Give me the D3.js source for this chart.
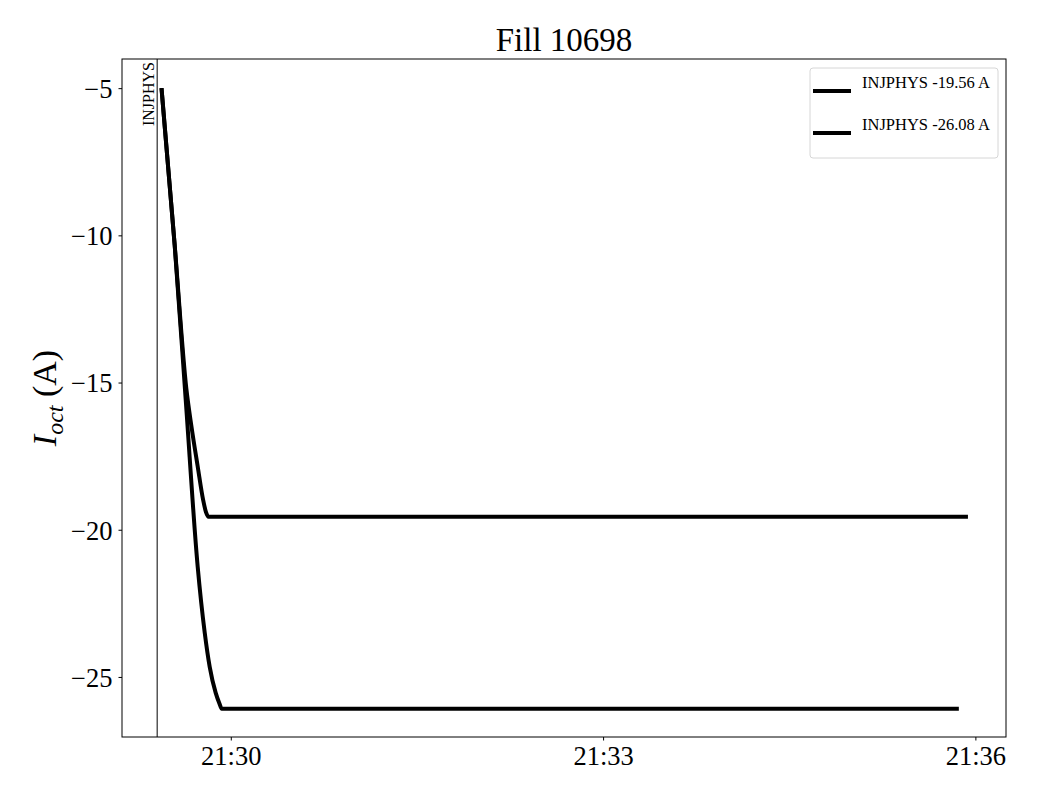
<!DOCTYPE html>
<html>
<head>
<meta charset="utf-8">
<script src="https://cdn.jsdelivr.net/npm/d3@7"></script>
<style>
  body { margin: 0; background: #fff; }
  text { font-family: "Liberation Serif", "DejaVu Serif", serif; }
</style>
</head>
<body>
<div id="chart"></div>
<script>
// seconds after 21:29:00
const t1 = [26.5, 32.9, 38.5, 41.0, 44.0, 46.6, 48.0, 49.2, 416.4];
const v1 = [-5.0, -10.36, -15.2, -16.5, -17.85, -18.98, -19.4, -19.56, -19.56];
const t2 = [26.5, 32.9, 38.2, 44.0, 47.4, 49.8, 52.7, 54.5, 55.6, 412.0];
const v2 = [-5.0, -10.36, -15.58, -21.26, -23.5, -24.66, -25.54, -25.9, -26.08, -26.08];
const seriesNames = ["INJPHYS -19.56 A", "INJPHYS -26.08 A"];
const markerTime = 24.4;
const markerLabel = "INJPHYS";
const yTicks = [-5, -10, -15, -20, -25];
const xTickLabels = ["21:30", "21:33", "21:36"];

const base = new Date(2024, 0, 1, 21, 29, 0);
const toDate = s => new Date(base.getTime() + s * 1000);

const W = 1040, H = 800;
const m = {top: 59, right: 34, bottom: 63, left: 122};

let svg = d3.select("#chart").append("svg")
    .attr("width", W)
    .attr("height", H);

let x = d3.scaleTime()
    .domain([toDate(7.4), toDate(434.8)])
    .range([m.left, W - m.right]);

let y = d3.scaleLinear()
    .domain([-27.04, -4.01])
    .range([H - m.bottom, m.top]);

// axes
let xTicks = xTickLabels.map(s => {
    let [hh, mm] = s.split(":").map(Number);
    return new Date(2024, 0, 1, hh, mm, 0);
});

let gx = svg.append("g")
    .attr("transform", `translate(0,${H - m.bottom})`)
    .call(d3.axisBottom(x).tickValues(xTicks).tickFormat(d3.timeFormat("%H:%M")).tickSize(3.5).tickPadding(6));
gx.select(".domain").remove();
gx.selectAll("text").attr("font-size", 26.5).attr("fill", "#000")
    .attr("font-family", "Liberation Serif, serif");

let gy = svg.append("g")
    .attr("transform", `translate(${m.left},0)`)
    .call(d3.axisLeft(y).tickValues(yTicks).tickFormat(d => "\u2212" + Math.abs(d)).tickSize(3.5).tickPadding(6));
gy.select(".domain").remove();
gy.selectAll("text").attr("font-size", 26.5).attr("fill", "#000").attr("dy", "0.35em")
    .attr("font-family", "Liberation Serif, serif");

// frame
svg.append("rect")
    .attr("x", m.left).attr("y", m.top)
    .attr("width", W - m.left - m.right)
    .attr("height", H - m.top - m.bottom)
    .attr("fill", "none").attr("stroke", "#000").attr("stroke-width", 1);

// marker line
svg.append("line")
    .attr("x1", x(toDate(markerTime))).attr("x2", x(toDate(markerTime)))
    .attr("y1", m.top).attr("y2", H - m.bottom)
    .attr("stroke", "#000").attr("stroke-width", 1);

svg.append("text")
    .attr("transform", `translate(${x(toDate(markerTime)) - 3},${m.top + 3}) rotate(-90)`)
    .attr("text-anchor", "end")
    .attr("font-size", 16)
    .text(markerLabel);

// data lines
let line = d3.line()
    .curve(d3.curveMonotoneX)
    .x(d => x(toDate(d[0])))
    .y(d => y(d[1]));

let data = [d3.zip(t1, v1), d3.zip(t2, v2)];

svg.selectAll(".series")
    .data(data)
    .enter()
    .append("path")
    .attr("class", "series")
    .attr("d", line)
    .attr("fill", "none")
    .attr("stroke", "#000")
    .attr("stroke-width", 4)
    .attr("stroke-linejoin", "round");

// title
svg.append("text")
    .attr("x", (m.left + W - m.right) / 2)
    .attr("y", 51)
    .attr("text-anchor", "middle")
    .attr("font-size", 33)
    .text("Fill 10698");

// y label
let ylab = svg.append("text")
    .attr("transform", `translate(56,${(m.top + H - m.bottom) / 2}) rotate(-90)`)
    .attr("text-anchor", "middle")
    .attr("font-size", 34);
ylab.append("tspan").attr("font-style", "italic").text("I");
ylab.append("tspan").attr("font-style", "italic").attr("font-size", 24).attr("dy", 7).text("oct");
ylab.append("tspan").attr("dy", -7).text(" (A)");

// legend
let lg = svg.append("g").attr("transform", "translate(810,68)");
lg.append("rect")
    .attr("width", 188).attr("height", 90)
    .attr("rx", 3)
    .attr("fill", "#fff").attr("stroke", "#d6d6d6").attr("stroke-width", 1);

seriesNames.forEach((name, i) => {
    lg.append("line")
        .attr("x1", 3).attr("x2", 41)
        .attr("y1", 23 + i * 42).attr("y2", 23 + i * 42)
        .attr("stroke", "#000").attr("stroke-width", 4);
    lg.append("text")
        .attr("x", 52).attr("y", 20 + i * 42)
        .attr("font-size", 16.5)
        .text(name);
});
</script>
</body>
</html>
